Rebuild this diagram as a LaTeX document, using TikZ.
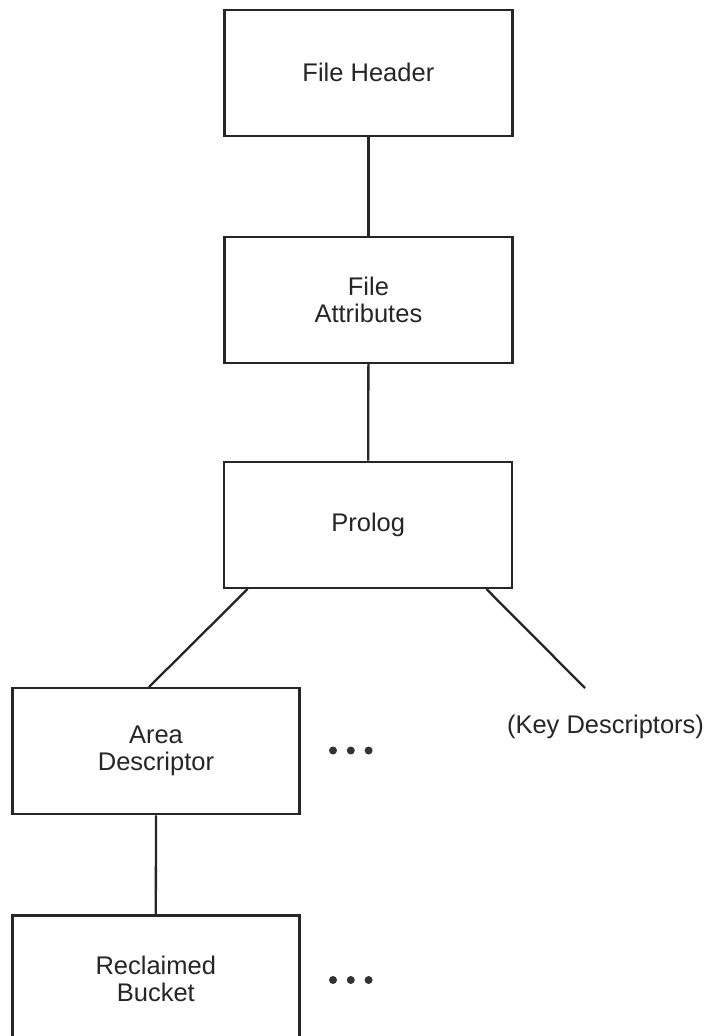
\documentclass[tikz,border=0pt]{standalone}
\usepackage{fontspec}
\setmainfont{Liberation Sans}
\usetikzlibrary{calc}
\begin{document}
\begin{tikzpicture}[x=1pt,y=-1pt,
  box/.style={draw=black!85, line width=2.4pt, minimum width=288pt, minimum height=126pt,
    inner sep=0pt, align=center, font=\fontsize{25.5}{27}\selectfont, text=black!85},
  link/.style={draw=black!85, line width=2.3pt},
  lbl/.style={inner sep=0pt, font=\fontsize{25.5}{27}\selectfont, text=black!85},
  dotmark/.style={circle, fill=black!80, inner sep=0pt, minimum size=8pt}]
\clip (0,0) rectangle (708,1036);
\fill[white] (0,0) rectangle (708,1036);
\node[box] (fh) at (368.4,72.7) {File Header};
\node[box] (fa) at (368.4,300) {File\\Attributes};
\node[box] (pr) at (368.2,524.8) {Prolog};
\node[box, minimum width=287pt] (ad) at (156,751.2) {Area\\Descriptor};
\node[box, minimum width=287pt] (rb) at (155.8,978.5) {Reclaimed\\Bucket};
\node[lbl] (kd) at (605.5,727) {(Key Descriptors)};
\coordinate (kdend) at (585,688);
\node[dotmark] (d1) at (333,750.5) {};
\node[dotmark] (d2) at (350.8,750.5) {};
\node[dotmark] (d3) at (368.6,750.5) {};
\node[dotmark] (e1) at (333,980) {};
\node[dotmark] (e2) at (350.8,980) {};
\node[dotmark] (e3) at (368.6,980) {};
\draw[link] (fh.south) -- (fa.north);
\draw[link] (fa.south) -- (pr.north);
\draw[link] ($(pr.south west)+(24.6,0)$) -- ($(ad.north)+(-7,0)$);
\draw[link] ($(pr.south east)+(-27,0)$) -- (kdend);
\draw[link] (ad.south) -- (rb.north);
\end{tikzpicture}
\end{document}
